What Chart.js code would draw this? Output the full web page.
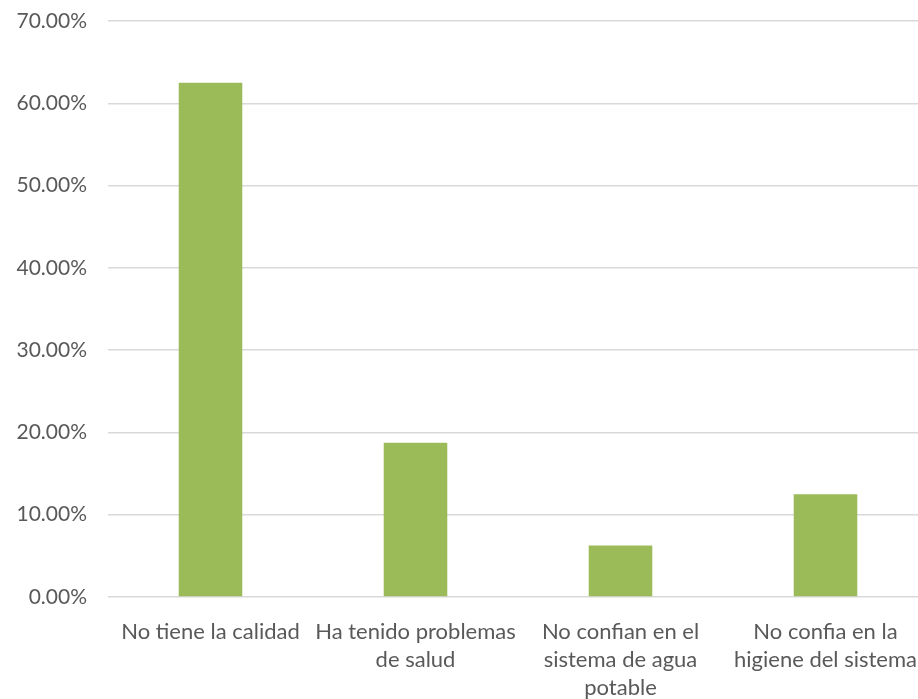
<!DOCTYPE html>
<html>
<head>
<meta charset="utf-8">
<script src="https://cdn.jsdelivr.net/npm/chart.js@4.4.1/dist/chart.umd.min.js"></script>
<style>
  html, body { margin: 0; padding: 0; background: #fff; overflow: hidden; }
  #wrap { width: 928px; height: 699px; position: relative; }
</style>
</head>
<body>
<div id="wrap"><canvas id="chart"></canvas></div>
<script>
const categories = [
  'No tiene la calidad',
  ['Ha tenido problemas', 'de salud'],
  ['No confian en el', 'sistema de agua', 'potable'],
  ['No confia en la', 'higiene del sistema']
];
const values = [62.5, 18.75, 6.25, 12.5];
const yTicks = { min: 0, max: 70, step: 10 };

const textColor = '#595959';

new Chart(document.getElementById('chart'), {
  type: 'bar',
  data: {
    labels: categories,
    datasets: [{
      data: values,
      backgroundColor: '#9BBB59',
      categoryPercentage: 1,
      barPercentage: 0.31
    }]
  },
  options: {
    responsive: true,
    maintainAspectRatio: false,
    animation: false,
    layout: { padding: { top: 21, left: 0, right: 0, bottom: 0 } },
    plugins: { legend: { display: false }, tooltip: { enabled: false } },
    scales: {
      x: {
        grid: { display: false },
        border: { display: false },
        ticks: {
          color: textColor, font: { family: 'Lato', size: 22, lineHeight: 1.27 },
          maxRotation: 0, autoSkip: false, padding: 13
        },
        afterFit: s => { s.height = 102; s.paddingLeft = 0; s.paddingRight = 0; }
      },
      y: {
        min: yTicks.min, max: yTicks.max,
        border: { display: false },
        grid: { color: '#d9d9d9', lineWidth: 1.5, drawTicks: false },
        ticks: {
          stepSize: yTicks.step, color: textColor, font: { family: 'Lato', size: 21 },
          padding: 21,
          callback: v => v.toFixed(2) + '%'
        },
        afterFit: s => { s.width = 108; s.paddingTop = 0; s.paddingBottom = 0; }
      }
    }
  }
});
</script>
</body>
</html>
